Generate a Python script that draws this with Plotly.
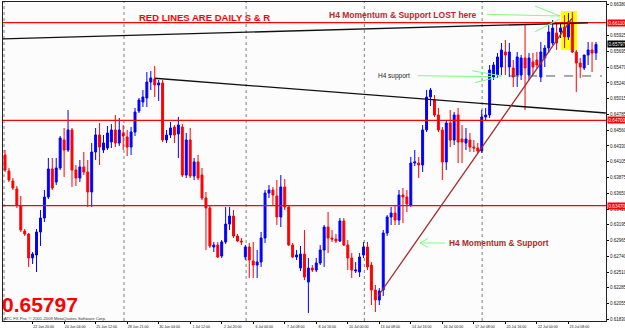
import plotly.graph_objects as go

# ---------------- data (H4 candles) ----------------
opens = [0.64200,0.63969,0.63824,0.63709,0.63463,0.63102,0.63059,0.62713,0.62756,0.63088,
         0.63290,0.63593,0.63998,0.63810,0.64012,0.64416,0.64272,0.64561,0.63983,0.63868,
         0.64027,0.63954,0.63666,0.64243,0.64489,0.64272,0.64301,0.64388,0.64561,0.64373,
         0.64518,0.64460,0.64315,0.64532,0.64835,0.64965,0.65023,0.65254,0.65297,0.65211,
         0.65240,0.64416,0.64489,0.64604,0.64503,0.64604,0.63911,0.64416,0.63897,0.64099,
         0.63911,0.63579,0.63435,0.62871,0.62900,0.62741,0.62944,0.63203,0.63319,0.63030,
         0.62958,0.62727,0.62871,0.62669,0.62611,0.62655,0.63001,0.63651,0.63694,0.63608,
         0.63305,0.63738,0.63449,0.62900,0.62727,0.62568,0.62770,0.62366,0.62568,0.62539,
         0.62640,0.62828,0.63160,0.63001,0.62987,0.62958,0.63247,0.62900,0.62713,0.62525,
         0.62510,0.62756,0.62871,0.62611,0.62250,0.62106,0.62250,0.63073,0.63305,0.63362,
         0.63261,0.63622,0.63593,0.63478,0.64084,0.64084,0.64055,0.64561,0.65037,0.64994,
         0.64777,0.64561,0.64099,0.64662,0.64416,0.64777,0.64431,0.64373,0.64416,0.64315,
         0.64301,0.64258,0.64749,0.64777,0.65326,0.65355,0.65470,0.65687,0.65470,0.65456,
         0.65355,0.65355,0.65600,0.65355,0.65543,0.65572,0.65326,0.65600,0.65745,0.65817,
         0.65962,0.65976,0.66048,0.65904,0.66120,0.65687,0.65528,0.65456,0.65644,0.65716,
         0.65673]
highs = [0.64272,0.64012,0.63868,0.63752,0.63608,0.63131,0.63073,0.62799,0.63131,0.63406,
         0.63694,0.64157,0.64157,0.64157,0.64474,0.64590,0.64850,0.64590,0.64055,0.64128,
         0.64243,0.64128,0.64373,0.64590,0.64662,0.64489,0.64619,0.64647,0.64777,0.64734,
         0.64633,0.64561,0.64604,0.64879,0.65023,0.65138,0.65398,0.65413,0.65485,0.65283,
         0.65283,0.64561,0.64676,0.64633,0.64749,0.64647,0.64518,0.64590,0.64157,0.64200,
         0.64012,0.63666,0.63478,0.62944,0.62944,0.62972,0.63449,0.63449,0.63406,0.63059,
         0.63001,0.62900,0.62929,0.62944,0.62828,0.63088,0.63694,0.63767,0.63738,0.63839,
         0.63911,0.63853,0.63478,0.62929,0.62828,0.62886,0.63117,0.62713,0.62611,0.62713,
         0.62900,0.63189,0.63377,0.63117,0.63059,0.63290,0.63290,0.62972,0.62785,0.62655,
         0.62785,0.62944,0.62944,0.62655,0.62323,0.62279,0.63117,0.63333,0.63449,0.63478,
         0.63694,0.63723,0.63694,0.64171,0.64272,0.64171,0.64633,0.65138,0.65167,0.65066,
         0.64879,0.64604,0.64705,0.64850,0.64821,0.64879,0.64633,0.64590,0.64518,0.64416,
         0.64373,0.64850,0.64879,0.65499,0.65543,0.65673,0.65817,0.65860,0.65817,0.65572,
         0.65687,0.65644,0.66077,0.65673,0.65673,0.65687,0.65832,0.65788,0.66077,0.66149,
         0.66106,0.66106,0.66221,0.66250,0.66265,0.65716,0.65600,0.65644,0.65832,0.65832,
         0.65832]
lows = [0.63954,0.63810,0.63694,0.63435,0.63088,0.63030,0.62583,0.62626,0.62510,0.62886,
        0.63232,0.63564,0.63694,0.63767,0.63983,0.63882,0.64243,0.63738,0.63752,0.63810,
        0.63911,0.63449,0.63449,0.64128,0.64055,0.64229,0.64272,0.64301,0.64315,0.64330,
        0.64272,0.64185,0.64200,0.64474,0.64806,0.64893,0.64893,0.65138,0.65037,0.64980,
        0.64388,0.64373,0.64445,0.64373,0.64157,0.63882,0.63868,0.63868,0.63839,0.63839,
        0.63550,0.62828,0.62857,0.62799,0.62713,0.62713,0.62915,0.63117,0.63001,0.62944,
        0.62900,0.62684,0.62424,0.62424,0.62424,0.62583,0.62929,0.63579,0.63478,0.63189,
        0.63160,0.63406,0.62886,0.62713,0.62684,0.62525,0.62395,0.61918,0.62510,0.62510,
        0.62611,0.62583,0.62785,0.62944,0.62929,0.62944,0.62886,0.62539,0.62424,0.62496,
        0.62438,0.62713,0.62539,0.62034,0.61933,0.62034,0.62164,0.63030,0.63189,0.63189,
        0.63189,0.63218,0.63377,0.63449,0.64041,0.63868,0.63954,0.64532,0.64907,0.64749,
        0.64532,0.63839,0.63983,0.64315,0.64344,0.64084,0.64084,0.64272,0.64243,0.64243,
        0.64229,0.64229,0.64705,0.64734,0.65283,0.65312,0.65355,0.65355,0.65326,0.65182,
        0.65182,0.65283,0.64850,0.65283,0.65355,0.65456,0.65254,0.65470,0.65673,0.65788,
        0.65716,0.65889,0.65745,0.65860,0.65673,0.65110,0.65312,0.65427,0.65499,0.65398,
        0.65572]
closes = [0.63983,0.63839,0.63723,0.63478,0.63117,0.63059,0.62713,0.62770,0.63088,0.63290,
          0.63593,0.63998,0.63723,0.64012,0.64445,0.64272,0.64561,0.63983,0.63868,0.64027,
          0.63954,0.63666,0.64243,0.64489,0.64315,0.64373,0.64518,0.64561,0.64373,0.64561,
          0.64474,0.64315,0.64532,0.64821,0.64994,0.65037,0.65254,0.65312,0.65211,0.65240,
          0.64416,0.64489,0.64590,0.64489,0.64633,0.63911,0.64416,0.63897,0.64099,0.63868,
          0.63579,0.63435,0.62886,0.62900,0.62727,0.62944,0.63203,0.63319,0.63030,0.62958,
          0.62944,0.62871,0.62684,0.62611,0.62655,0.63001,0.63651,0.63694,0.63622,0.63305,
          0.63738,0.63449,0.62900,0.62727,0.62756,0.62770,0.62438,0.62568,0.62539,0.62640,
          0.62828,0.63160,0.63001,0.62987,0.62958,0.63247,0.62900,0.62713,0.62539,0.62539,
          0.62727,0.62871,0.62583,0.62250,0.62106,0.62236,0.63073,0.63305,0.63362,0.63261,
          0.63622,0.63593,0.63492,0.64084,0.64099,0.64055,0.64561,0.65037,0.65138,0.64777,
          0.64561,0.64099,0.64662,0.64416,0.64777,0.64388,0.64388,0.64431,0.64315,0.64301,
          0.64258,0.64749,0.64777,0.65427,0.65499,0.65615,0.65716,0.65644,0.65687,0.65326,
          0.65615,0.65600,0.65456,0.65600,0.65470,0.65499,0.65687,0.65745,0.65976,0.66034,
          0.65817,0.66034,0.65904,0.66120,0.65687,0.65528,0.65470,0.65644,0.65716,0.65673,
          0.65797]

# time-axis labels (one every 8 H4 bars) and their bar index
time_labels = ["19 Jun 2009", "22 Jun 20:00", "24 Jun 04:00", "25 Jun 12:00", "28 Jun 21:00",
               "30 Jun 04:00", "1 Jul 12:00", "2 Jul 20:00", "6 Jul 00:00", "7 Jul 08:00",
               "8 Jul 16:00", "10 Jul 00:00", "13 Jul 08:00", "14 Jul 16:00", "16 Jul 00:00",
               "17 Jul 08:00", "20 Jul 16:00", "22 Jul 00:00", "23 Jul 08:00"]
time_label_bars = [-1, 7, 15, 23, 31, 39, 47, 55, 63, 71, 79, 87, 95, 103, 111, 119, 127, 135, 143]

# price scale labels (0.66150 is hidden behind the 0.66110 marker in the picture)
price_ticks = [0.66380, 0.65925, 0.65695, 0.65470, 0.65240, 0.65015, 0.64785, 0.64560,
               0.64330, 0.64105, 0.63875, 0.63650, 0.63420, 0.63195, 0.62965, 0.62740, 0.62510,
               0.62285, 0.62055, 0.61830]

daily_sr = [0.66110, 0.64700, 0.63470]       # red daily S & R lines
last_price = 0.65797
h4_support = 0.65341                          # dashed level
week_starts = [-0.25, 30.2, 61.2, 91.2, 121.1]  # period separators (bar index)

# trend lines: (bar0, price0, bar1, price1)
upper_black = (-0.76, 0.65875, 148.0, 0.66109)
lower_black = (38.0, 0.65308, 152.5, 0.64806)
momentum = (94.7, 0.62164, 143.9, 0.66171)

# ---------------- figure ----------------
W, H = 625, 329
ML, MR, MT, MB = 3, 19, 2, 8
PW, PH = W - ML - MR, H - MT - MB


def px(x):
    return (x - ML) / PW


def py(y):
    return (H - MB - y) / PH


x = list(range(len(opens)))
fig = go.Figure()
fig.add_trace(go.Candlestick(
    x=x, open=opens, high=highs, low=lows, close=closes,
    increasing=dict(line=dict(color="#0000ff", width=1), fillcolor="#0000ff"),
    decreasing=dict(line=dict(color="#ff0000", width=1), fillcolor="#ff0000"),
    whiskerwidth=0, hoverinfo="skip", showlegend=False))

shapes = []
# yellow highlight box (behind candles)
shapes.append(dict(type="rect", xref="x", yref="y", x0=141.1, x1=145.2, y0=0.65716, y1=0.66279,
                   fillcolor="#ffff00", line=dict(width=0), layer="below"))
# weekly separators
for b in week_starts:
    shapes.append(dict(type="line", xref="x", yref="paper", x0=b, x1=b, y0=0, y1=1,
                       line=dict(color="#808080", width=1, dash="dot"), layer="below"))
# daily S&R
for lv in daily_sr:
    shapes.append(dict(type="line", xref="paper", yref="y", x0=0, x1=1, y0=lv, y1=lv,
                       line=dict(color="#ff0000", width=1.2)))
# trend lines
for (b0, p0, b1, p1), col, wd in [(upper_black, "#111111", 1.3), (lower_black, "#111111", 1.3),
                                  (momentum, "#a52a2a", 1.3)]:
    shapes.append(dict(type="line", xref="x", yref="y", x0=b0, y0=p0, x1=b1, y1=p1,
                       line=dict(color=col, width=wd)))
# dashed H4 support level
shapes.append(dict(type="line", xref="x", yref="y", x0=128.2, x1=151.5, y0=h4_support, y1=h4_support,
                   line=dict(color="#555555", width=1, dash="dash")))
# green arrow strokes (pixel positions on the page)
green = "#7dff7d"
for (x0, y0, x1, y1) in [(445, 243, 420, 243), (420, 243, 428, 238.5), (420, 243, 428, 247.5),
                         (418, 75.7, 492, 76.7), (472, 70.7, 502, 76), (475, 82.7, 502, 76),
                         (487, 14.3, 560, 16), (535, 6, 560, 16), (535, 31.7, 560, 19)]:
    shapes.append(dict(type="line", xref="paper", yref="paper", x0=px(x0), y0=py(y0),
                       x1=px(x1), y1=py(y1), line=dict(color=green, width=1)))

ann = []
ann.append(dict(xref="paper", yref="paper", x=px(137), y=py(17), xanchor="left", yanchor="middle",
                text="RED LINES ARE DAILY S & R", showarrow=False,
                font=dict(family="Liberation Sans", size=9.5, color="#ff0000", weight="bold")))
ann.append(dict(xref="paper", yref="paper", x=px(327), y=py(14.5), xanchor="left", yanchor="middle",
                text="H4 Momentum & Support LOST here", showarrow=False,
                font=dict(family="Liberation Sans", size=8.5, color="#c0282a", weight="bold")))
ann.append(dict(xref="paper", yref="paper", x=px(376), y=py(75.5), xanchor="left", yanchor="middle",
                text="H4 support", showarrow=False,
                font=dict(family="Liberation Sans", size=6.5, color="#222222")))
ann.append(dict(xref="paper", yref="paper", x=px(447), y=py(242.5), xanchor="left", yanchor="middle",
                text="H4 Momentum & Support", showarrow=False,
                font=dict(family="Liberation Sans", size=8.3, color="#b02828", weight="bold")))
ann.append(dict(xref="paper", yref="paper", x=px(1), y=py(316.5), xanchor="left", yanchor="bottom",
                text=f"{last_price:.5f}", showarrow=False, borderpad=0,
                font=dict(family="Liberation Sans", size=21, color="#ff0000", weight="bold")))
ann.append(dict(xref="paper", yref="paper", x=px(3), y=py(318), xanchor="left", yanchor="middle",
                text="ATC FX Pro, \u00a9 2001-2009 MetaQuotes Software Corp.", showarrow=False,
                borderpad=0, font=dict(family="Liberation Sans", size=4.2, color="#333333")))
# price labels on the axis
for lv in daily_sr:
    ann.append(dict(xref="paper", yref="y", x=1, xshift=1, y=lv, xanchor="left", yanchor="middle",
                    text=f"{lv:.5f}", showarrow=False, bgcolor="#ff0000", borderpad=0.5,
                    font=dict(family="Liberation Sans", size=4.6, color="#ffffff")))
ann.append(dict(xref="paper", yref="y", x=1, xshift=1, y=last_price, xanchor="left", yanchor="middle",
                text=f"{last_price:.5f}", showarrow=False, bgcolor="#000000", borderpad=0.5,
                font=dict(family="Liberation Sans", size=4.6, color="#ffffff")))

fig.update_layout(
    width=W, height=H, margin=dict(l=ML, r=MR, t=MT, b=MB, autoexpand=False),
    paper_bgcolor="#ffffff", plot_bgcolor="#fcfcfc",
    shapes=shapes, annotations=ann, showlegend=False,
    xaxis=dict(range=[-0.51, 152.54], rangeslider=dict(visible=False), tickmode="array",
               tickvals=time_label_bars, ticktext=time_labels, ticks="outside", ticklen=2,
               tickcolor="#000000", ticklabelshift=11, ticklabelstandoff=0,
               tickfont=dict(family="Liberation Sans", size=3.6, color="#111111"),
               showgrid=False, zeroline=False, showline=True, linecolor="#222222", linewidth=1,
               mirror=True, fixedrange=True),
    yaxis=dict(range=[0.61803, 0.66409], side="right", tickmode="array", tickvals=price_ticks,
               ticktext=[f"{v:.5f}" for v in price_ticks], ticks="outside", ticklen=2,
               ticklabelstandoff=0,
               tickcolor="#000000", tickfont=dict(family="Liberation Sans", size=4.5, color="#111111"),
               showgrid=False, zeroline=False, showline=True, linecolor="#222222", linewidth=1,
               mirror=True, fixedrange=True),
)

fig.write_html("out.html")
